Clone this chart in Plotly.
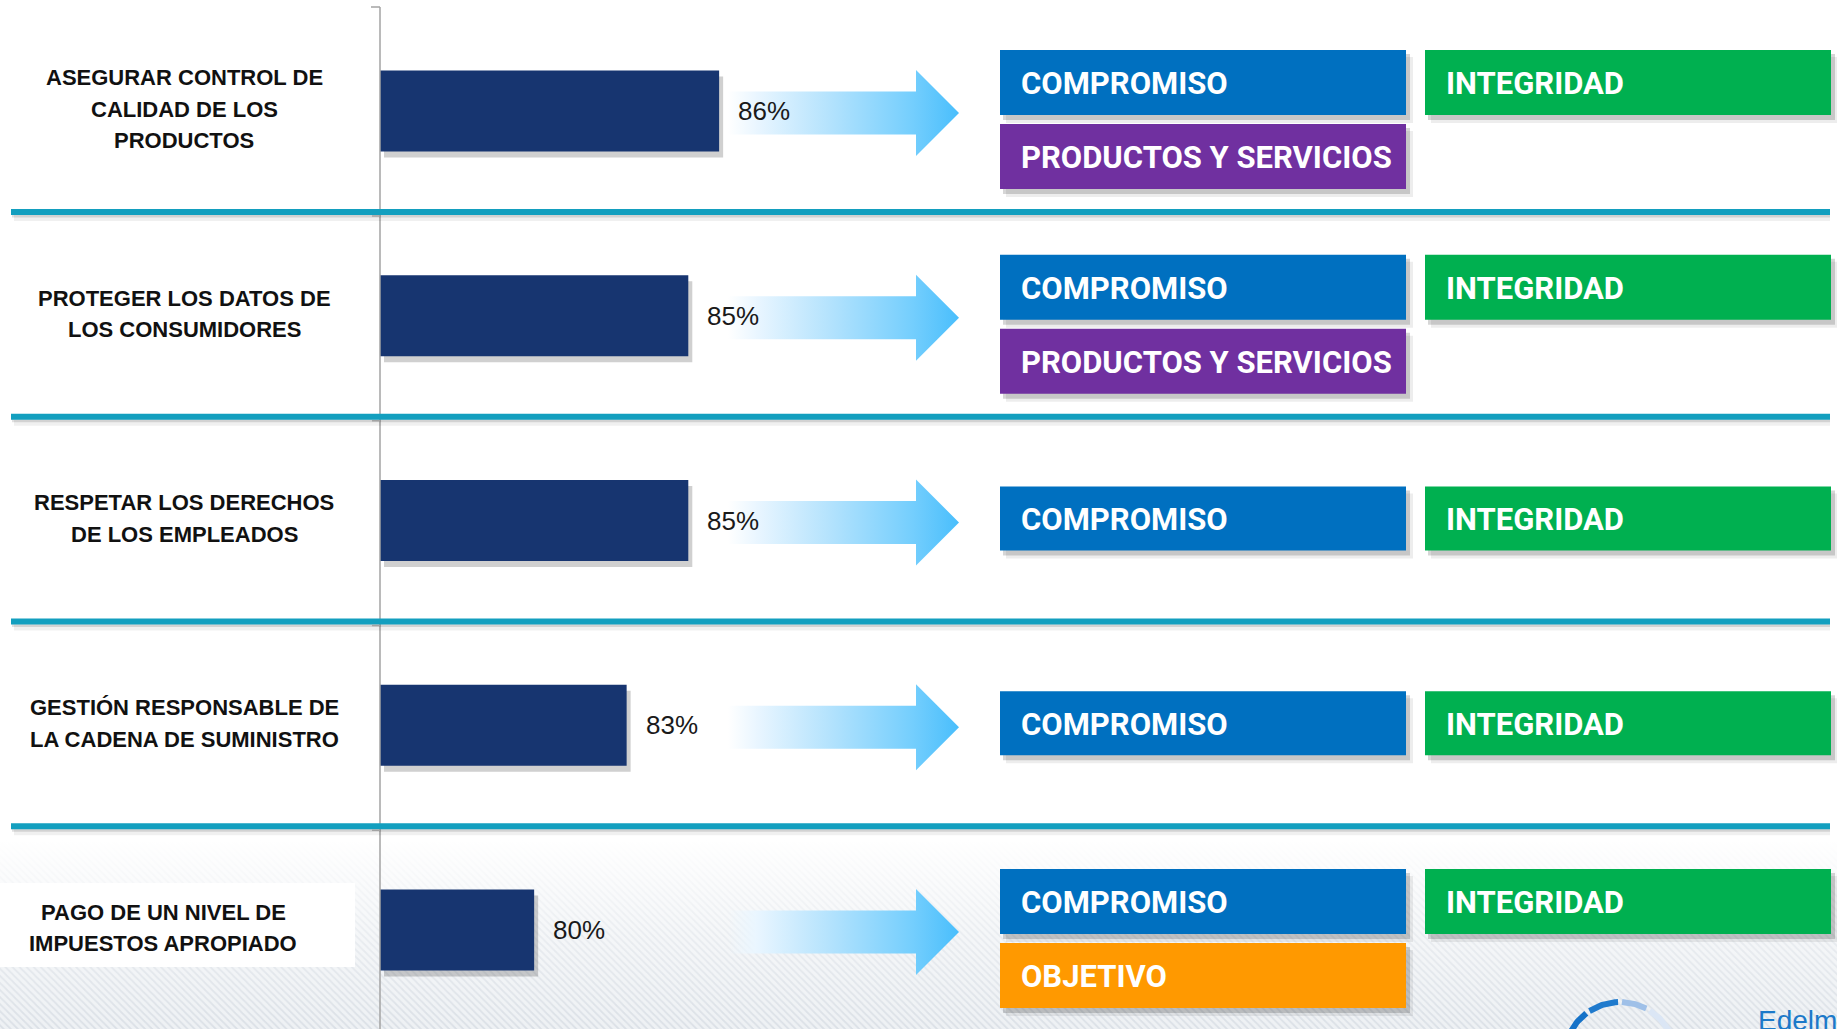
import math
import plotly.graph_objects as go

# ---- data -------------------------------------------------------------
categories = [
    "ASEGURAR CONTROL DE<br>CALIDAD DE LOS<br>PRODUCTOS",
    "PROTEGER LOS DATOS DE<br>LOS CONSUMIDORES",
    "RESPETAR LOS DERECHOS<br>DE LOS EMPLEADOS",
    "GESTIÓN RESPONSABLE DE<br>LA CADENA DE SUMINISTRO",
    "PAGO DE UN NIVEL DE<br>IMPUESTOS APROPIADO",
]
values = [86, 85, 85, 83, 80]
value_labels = ["86%", "85%", "85%", "83%", "80%"]
row_tags = [
    ["COMPROMISO", "INTEGRIDAD", "PRODUCTOS Y SERVICIOS"],
    ["COMPROMISO", "INTEGRIDAD", "PRODUCTOS Y SERVICIOS"],
    ["COMPROMISO", "INTEGRIDAD"],
    ["COMPROMISO", "INTEGRIDAD"],
    ["COMPROMISO", "INTEGRIDAD", "OBJETIVO"],
]
tag_colors = {
    "COMPROMISO": "#0070C0",
    "INTEGRIDAD": "#00B050",
    "PRODUCTOS Y SERVICIOS": "#7030A0",
    "OBJETIVO": "#FF9900",
}

# ---- geometry (page pixels) -----------------------------------------
W, H = 1837, 1029
AXIS_X = 380                 # page x of the value axis line
X_MIN = 75                   # value sitting on the axis line
PX_PER_PCT = 30.83
X_LEFT = X_MIN - AXIS_X / PX_PER_PCT
X_RIGHT = X_MIN + (W - AXIS_X) / PX_PER_PCT
ROW_PX = 204.75
ROW0_PX = 111
Y_TOP = -ROW0_PX / ROW_PX
Y_BOTTOM = Y_TOP + H / ROW_PX

LABEL_FONT = "Liberation Sans, Arial, sans-serif"
TAG_FONT = "Roboto, Liberation Sans, sans-serif"
label_x = [184, 184, 184, 184, 163]
LINE_PX = 31.5


def row_center(i):
    return ROW0_PX + i * ROW_PX


fig = go.Figure()

# ---- textured backdrop at the foot of the page -------------------------
fig.add_trace(go.Bar(
    x=[W / 2], y=[H - 840], base=[840], width=[W],
    marker=dict(color="#eef1f4", line_width=0,
                pattern=dict(shape="\\", fgcolor="#c8cfd8", size=5, solidity=0.35)),
    xaxis="x", yaxis="y", hoverinfo="skip", showlegend=False,
))
fig.add_trace(go.Scatter(
    x=[0, W, W, 0, 0], y=[840, 840, H, H, 840], mode="lines",
    line=dict(width=0, color="rgba(0,0,0,0)"), fill="toself",
    fillgradient=dict(type="vertical", start=840, stop=H,
                      colorscale=[[0, "rgba(255,255,255,1)"],
                                  [0.5, "rgba(255,255,255,0.4)"],
                                  [1, "rgba(255,255,255,0.0)"]]),
    xaxis="x", yaxis="y", hoverinfo="skip", showlegend=False,
))

# ---- gradient arrows ---------------------------------------------------
A_START, A_HEAD, A_TIP = 728, 916, 959
SHAFT, HEAD = 21.5, 43
for i in range(len(categories)):
    cy = row_center(i) + 2
    xs = [A_START, A_HEAD, A_HEAD, A_TIP, A_HEAD, A_HEAD, A_START, A_START]
    ys = [cy - SHAFT, cy - SHAFT, cy - HEAD, cy, cy + HEAD, cy + SHAFT, cy + SHAFT, cy - SHAFT]
    fig.add_trace(go.Scatter(
        x=xs, y=ys, mode="lines", line=dict(width=0, color="rgba(0,0,0,0)"),
        fill="toself",
        fillgradient=dict(type="horizontal", start=A_START, stop=A_TIP,
                          colorscale=[[0, "rgba(235,247,255,0.0)"],
                                      [0.12, "#eaf6ff"],
                                      [0.45, "#b2e2fd"],
                                      [0.8, "#74cefd"],
                                      [1, "#49befc"]]),
        xaxis="x", yaxis="y", hoverinfo="skip", showlegend=False,
    ))

# ---- Edelman mark --------------------------------------------------------
CX, CY, R = 1620, 1058, 56
arc_segments = [(205, 127, "#1572c8"), (123, 92, "#1f7acd"),
                (88, 62, "#9fc0e8"), (58, 25, "#dbe6f5")]
for a0, a1, col in arc_segments:
    th = [math.radians(a0 + (a1 - a0) * k / 40) for k in range(41)]
    fig.add_trace(go.Scatter(
        x=[CX + R * math.cos(t) for t in th], y=[CY - R * math.sin(t) for t in th],
        mode="lines", line=dict(color=col, width=6),
        xaxis="x", yaxis="y", hoverinfo="skip", showlegend=False,
    ))

# ---- bars start at X_MIN, where the value axis sits ------------------------
bar_lengths = [v - X_MIN for v in values]

# soft shadow: the same bars on an axis pair nudged right/down
fig.add_trace(go.Bar(
    x=bar_lengths, base=X_MIN, y=categories, orientation="h", width=0.396,
    marker=dict(color="rgba(40,40,40,0.22)", line_width=0),
    xaxis="x2", yaxis="y2", hoverinfo="skip", showlegend=False,
))
fig.add_trace(go.Bar(
    x=bar_lengths, base=X_MIN, y=categories, orientation="h", width=0.396,
    marker=dict(color="#173570", line_width=0),
    xaxis="x3", yaxis="y3", hoverinfo="skip", showlegend=False,
))

shapes = []
annotations = []

# white panel behind the last row label
shapes.append(dict(type="rect", xref="x", yref="y", x0=0, x1=355, y0=883, y1=967,
                   fillcolor="white", line_width=0, layer="above"))

# vertical axis line with small ticks
shapes.append(dict(type="line", xref="x", yref="y", x0=AXIS_X, x1=AXIS_X, y0=7, y1=H,
                   line=dict(color="#a3a3a3", width=1.5), layer="above"))
shapes.append(dict(type="line", xref="x", yref="y", x0=AXIS_X - 9, x1=AXIS_X, y0=7, y1=7,
                   line=dict(color="#a3a3a3", width=1.5), layer="above"))

# teal row separators with soft shadow
for i in range(len(categories) - 1):
    y = row_center(i) + 101
    shapes.append(dict(type="line", xref="x", yref="y", x0=14, x1=1830, y0=y + 6, y1=y + 6,
                       line=dict(color="rgba(0,0,0,0.06)", width=6), layer="above"))
    shapes.append(dict(type="line", xref="x", yref="y", x0=12, x1=1830, y0=y + 3.5, y1=y + 3.5,
                       line=dict(color="rgba(0,0,0,0.12)", width=4), layer="above"))
    shapes.append(dict(type="line", xref="x", yref="y", x0=11, x1=1830, y0=y, y1=y,
                       line=dict(color="#139fbf", width=6), layer="above"))
    shapes.append(dict(type="line", xref="x", yref="y", x0=AXIS_X - 8, x1=AXIS_X, y0=y + 4, y1=y + 4,
                       line=dict(color="#a3a3a3", width=1.5), layer="above"))

# tag boxes
COLS = [(1000, 1406), (1425, 1831)]


def tag_box(x0, x1, y0, y1, text):
    shapes.append(dict(type="rect", xref="x", yref="y", x0=x0 + 6, x1=x1 + 7, y0=y0 + 7, y1=y1 + 8,
                       fillcolor="rgba(0,0,0,0.07)", line_width=0, layer="above"))
    shapes.append(dict(type="rect", xref="x", yref="y", x0=x0 + 3, x1=x1 + 4, y0=y0 + 4, y1=y1 + 5,
                       fillcolor="rgba(0,0,0,0.16)", line_width=0, layer="above"))
    shapes.append(dict(type="rect", xref="x", yref="y", x0=x0, x1=x1, y0=y0, y1=y1,
                       fillcolor=tag_colors[text], line_width=0, layer="above"))
    annotations.append(dict(xref="x", yref="y", x=x0 + 19, y=(y0 + y1) / 2 + 1,
                            xanchor="left", yanchor="middle", showarrow=False, text=text,
                            font=dict(family=TAG_FONT, size=31, color="white", weight="bold")))


for i, tags in enumerate(row_tags):
    c = row_center(i)
    if len(tags) > 2:
        tag_box(COLS[0][0], COLS[0][1], c - 61, c + 4, tags[0])
        tag_box(COLS[1][0], COLS[1][1], c - 61, c + 4, tags[1])
        tag_box(COLS[0][0], COLS[0][1], c + 13, c + 78, tags[2])
    else:
        tag_box(COLS[0][0], COLS[0][1], c - 34, c + 30, tags[0])
        tag_box(COLS[1][0], COLS[1][1], c - 34, c + 30, tags[1])

# row labels, one annotation per line for looser leading
for i, cat in enumerate(categories):
    lines = cat.split("<br>")
    mid = row_center(i) - 2
    for k, line in enumerate(lines):
        annotations.append(dict(xref="x", yref="y", x=label_x[i],
                                y=mid + (k - (len(lines) - 1) / 2) * LINE_PX,
                                xanchor="center", yanchor="middle", showarrow=False, text=line,
                                font=dict(family=LABEL_FONT, size=22, color="#111111", weight="bold")))

# value labels next to the bars
for cat, v, lab in zip(categories, values, value_labels):
    annotations.append(dict(xref="x3", yref="y3", x=v, y=cat, xanchor="left", yanchor="middle",
                            xshift=17, showarrow=False, text=lab,
                            font=dict(family=LABEL_FONT, size=26, color="#1a1a1a")))

# brand word, running off the page edge
annotations.append(dict(xref="x", yref="y", x=1756, y=1020, xanchor="left", yanchor="middle",
                        showarrow=False, text="Edelman",
                        font=dict(family="Liberation Sans, Arial, sans-serif", size=28, color="#1c79c9")))

hidden = dict(visible=False, showgrid=False, zeroline=False, fixedrange=True)
fig.update_layout(
    width=W, height=H, margin=dict(l=0, r=0, t=0, b=0),
    paper_bgcolor="white", plot_bgcolor="rgba(0,0,0,0)",
    showlegend=False, hovermode=False, barmode="overlay",
    xaxis=dict(domain=[0, 1], range=[0, W], **hidden),
    yaxis=dict(domain=[0, 1], range=[H, 0], **hidden),
    xaxis2=dict(overlaying="x", anchor="y2",
                range=[X_LEFT - 4 / PX_PER_PCT, X_RIGHT - 4 / PX_PER_PCT], **hidden),
    yaxis2=dict(overlaying="y", anchor="x2", type="category",
                categoryorder="array", categoryarray=categories,
                range=[Y_BOTTOM - 6 / ROW_PX, Y_TOP - 6 / ROW_PX], **hidden),
    xaxis3=dict(overlaying="x", anchor="y3", range=[X_LEFT, X_RIGHT], **hidden),
    yaxis3=dict(overlaying="y", anchor="x3", type="category",
                categoryorder="array", categoryarray=categories,
                range=[Y_BOTTOM, Y_TOP], **hidden),
    shapes=shapes, annotations=annotations,
)

fig.write_html("out.html")
